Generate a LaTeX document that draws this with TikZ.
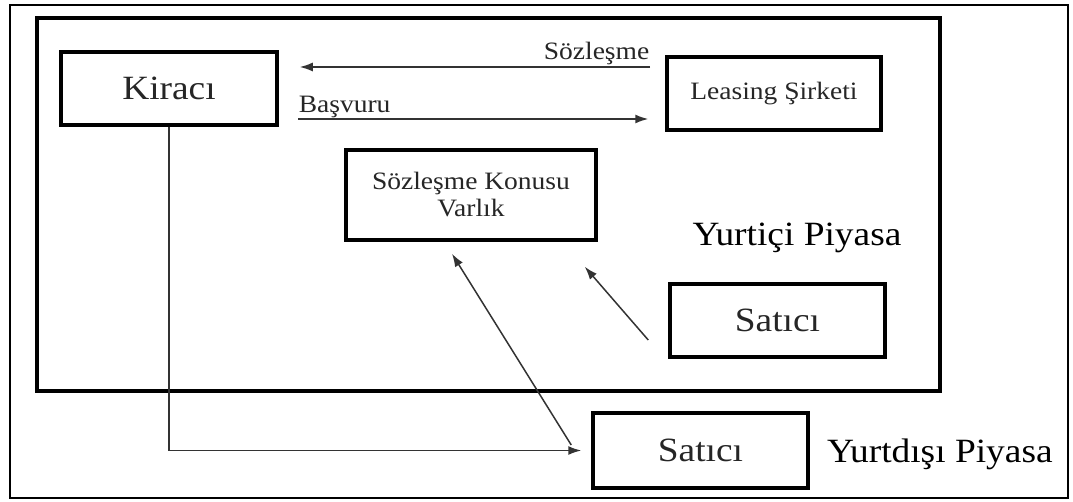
\documentclass[tikz,border=0pt]{standalone}
\usepackage{fontspec}
\setmainfont{Liberation Serif}[FakeStretch=1.1]
\usetikzlibrary{arrows.meta}

\begin{document}
\begin{tikzpicture}[x=1pt, y=-1pt,
    box/.style={draw=black, line width=3.5pt, inner sep=0pt, align=center, text=black!85},
    bigtxt/.style={font=\fontsize{34}{38}\selectfont},
    smalltxt/.style={font=\fontsize{25}{27}\selectfont},
    arr/.style={-{Latex[length=13pt,width=9pt]}, line width=1.5pt, draw=black!80},
    lbl/.style={smalltxt, inner sep=0pt, text=black!85}
]
    \useasboundingbox (0,0) rectangle (1073,502);

    % Frames: outer (Yurtdisi) and inner (Yurtici)
    \draw[line width=2.5pt] (10,5) rectangle (1068,498);
    \draw[line width=4pt] (37,18) rectangle (940,391);

    % Boxes
    \node[box, bigtxt, minimum width=216pt, minimum height=73pt] (kiraci) at (169,88.5) {Kiracı};
    \node[box, smalltxt, minimum width=214pt, minimum height=73pt] (leasing) at (774,93.5) {Leasing Şirketi};
    \node[box, smalltxt, minimum width=250pt, minimum height=90pt] (varlik) at (471,195) {Sözleşme Konusu\\Varlık};
    \node[box, bigtxt, minimum width=215pt, minimum height=73pt] (saticiic) at (777.5,320.5) {Satıcı};
    \node[box, bigtxt, minimum width=215pt, minimum height=75pt] (saticidis) at (700.5,450.5) {Satıcı};

    % Market labels
    \node[bigtxt, anchor=base, inner sep=0pt] (yurtici) at (797,246) {Yurtiçi Piyasa};
    \node[bigtxt, anchor=base west, inner sep=0pt] (yurtdisi) at (827,462) {Yurtdışı Piyasa};

    % Sozlesme / Basvuru arrows
    \coordinate (szl) at (650,67);
    \coordinate (bsv) at (298,119);
    \draw[arr, shorten >=21pt] (szl) node[lbl, anchor=base east, yshift=7pt] (szltxt) {Sözleşme} -- (szl -| kiraci.east);
    \draw[arr, shorten >=17pt] (bsv) node[lbl, anchor=base west, yshift=6pt] (bsvtxt) {Başvuru} -- (bsv -| leasing.west);

    % Kiraci to foreign seller
    \draw[arr, shorten >=10pt] (kiraci.south) |- (saticidis.west);

    % Sellers to asset
    \draw[arr] ([xshift=-20pt, yshift=5.5pt]saticidis.west) -- ([xshift=-19pt, yshift=-12pt]varlik.south);
    \draw[arr] ([xshift=-20pt, yshift=-19.5pt]saticiic.west) -- ([xshift=-13pt, yshift=-25pt]varlik.south east);

\end{tikzpicture}
\end{document}
